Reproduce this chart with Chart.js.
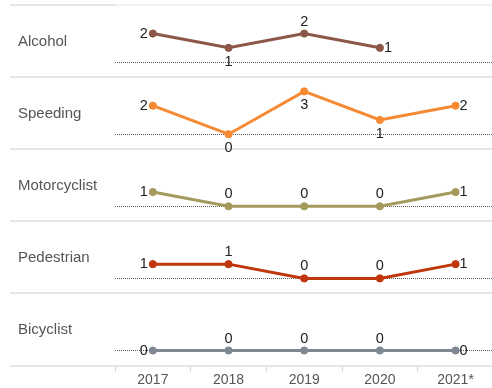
<!DOCTYPE html>
<html>
<head>
<meta charset="utf-8">
<script src="https://cdn.jsdelivr.net/npm/chart.js@4/dist/chart.umd.min.js"></script>
<style>
html, body { margin: 0; padding: 0; background: #fff; }
#wrap { width: 492px; height: 388px; overflow: hidden; position: relative; }
canvas { display: block; }
</style>
</head>
<body>
<div id="wrap"><canvas id="c" width="498" height="388"></canvas></div>
<script>
// Crash counts per year, one small line chart per crash type
const years = ['2017', '2018', '2019', '2020', '2021*'];
const categories = ['Alcohol', 'Speeding', 'Motorcyclist', 'Pedestrian', 'Bicyclist'];
const alcohol      = [2, 1, 2, 1, null];
const speeding     = [2, 0, 3, 1, 2];
const motorcyclist = [1, 0, 0, 0, 1];
const pedestrian   = [1, 1, 0, 0, 1];
const bicyclist    = [0, 0, 0, 0, 0];
const seriesValues = [alcohol, speeding, motorcyclist, pedestrian, bicyclist];

const colors = ['#8b5749', '#f68a33', '#a29b5d', '#c0360c', '#7d8894'];

// Where each value label sits relative to its point
const labelSides = [
  ['left', 'below', 'above', 'right', 'right'],
  ['left', 'below', 'below', 'below', 'right'],
  ['left', 'above', 'above', 'above', 'right'],
  ['left', 'above', 'above', 'above', 'right'],
  ['left', 'above', 'above', 'above', 'right']
];

const Y_MIN = -1.05, Y_MAX = 4, NAME_AT = 1.45;
const FONT = "'Liberation Sans', Arial, Helvetica, sans-serif";
const SEP = '#e6e6e6';
const NONE = 'rgba(0,0,0,0)';

const scales = {
  x: {
    type: 'category',
    labels: years,
    offset: true,
    grid: { display: true, drawOnChartArea: false, drawTicks: true, tickLength: 6,
            color: '#d4d4d4', tickColor: '#d4d4d4', offset: true },
    border: { display: false },
    ticks: { color: '#555', font: { family: FONT, size: 14 }, padding: 0,
             maxRotation: 0, autoSkip: false },
    afterFit: s => { s.height = 22.5; s.paddingLeft = 0; s.paddingRight = 0; }
  }
};

categories.forEach((name, i) => {
  const first = i === 0;
  const last = i === categories.length - 1;
  scales['y' + i] = {
    type: 'linear',
    position: 'left',
    stack: 'rows',
    stackWeight: 1,
    weight: categories.length - i,
    min: Y_MIN,
    max: Y_MAX,
    afterBuildTicks: s => {
      const t = [{ value: Y_MAX }, { value: NAME_AT }, { value: 0 }];
      if (last) t.push({ value: Y_MIN });
      s.ticks = t;
    },
    afterFit: s => { s.width = 97; s.paddingTop = 0; s.paddingBottom = 0; },
    ticks: {
      autoSkip: false,
      crossAlign: 'far',
      padding: 0,
      color: '#555',
      font: { family: FONT, size: 15 },
      callback: v => (v === NAME_AT ? name : '')
    },
    grid: {
      tickLength: 105,
      color: c => {
        const v = c.tick.value;
        if (v === 0) return '#5e5e5e';
        if (v === NAME_AT) return NONE;
        return (first && v === Y_MAX) ? '#f0f0f0' : SEP;
      },
      tickColor: c => {
        const v = c.tick.value;
        return (v === Y_MAX || v === Y_MIN) ? SEP : NONE;
      },
      lineWidth: c => (c.tick.value === 0 ? 1 : 2)
    },
    border: {
      display: false,
      dash: c => (c.tick && c.tick.value === 0 ? [1, 1] : [])
    }
  };
});

const datasets = categories.map((name, i) => ({
  label: name,
  data: seriesValues[i],
  yAxisID: 'y' + i,
  borderColor: colors[i],
  backgroundColor: colors[i],
  pointBackgroundColor: colors[i],
  pointBorderColor: colors[i],
  borderWidth: 3,
  pointRadius: 3.6,
  pointBorderWidth: 1,
  pointHoverRadius: 3.6,
  tension: 0,
  clip: false
}));

// Draws each value next to its point
const valueLabels = {
  id: 'valueLabels',
  afterDatasetsDraw(chart) {
    const ctx = chart.ctx;
    ctx.save();
    ctx.font = '14.5px ' + FONT;
    ctx.fillStyle = '#222';
    chart.data.datasets.forEach((ds, i) => {
      const meta = chart.getDatasetMeta(i);
      meta.data.forEach((pt, j) => {
        const v = ds.data[j];
        if (v === null || v === undefined) return;
        const side = labelSides[i][j];
        let x = pt.x, y = pt.y;
        if (side === 'left') {
          ctx.textAlign = 'right'; ctx.textBaseline = 'middle'; x -= 5;
        } else if (side === 'right') {
          ctx.textAlign = 'left'; ctx.textBaseline = 'middle'; x += 4;
        } else if (side === 'above') {
          ctx.textAlign = 'center'; ctx.textBaseline = 'alphabetic'; y -= 8;
        } else {
          ctx.textAlign = 'center'; ctx.textBaseline = 'alphabetic'; y += 18;
        }
        ctx.fillText(String(v), x, y);
      });
    });
    ctx.restore();
  }
};

new Chart(document.getElementById('c'), {
  type: 'line',
  data: { labels: years, datasets },
  options: {
    responsive: false,
    animation: false,
    devicePixelRatio: 1,
    layout: { padding: { left: 18, top: 5, right: 0, bottom: 0 } },
    plugins: { legend: { display: false }, tooltip: { enabled: false } },
    events: [],
    scales
  },
  plugins: [valueLabels]
});
</script>
</body>
</html>
